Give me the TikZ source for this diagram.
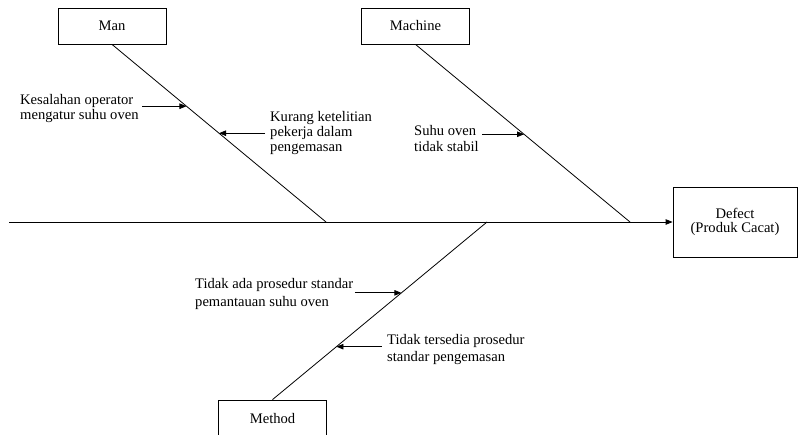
\documentclass[tikz,border=0pt]{standalone}
\usepackage{fontspec}
\setmainfont{Liberation Serif}
\usetikzlibrary{arrows.meta,calc}
% a left-aligned block of lines, baseline on its first line; optional line pitch
\newcommand\causelines[2][15pt]{{\fontsize{14.6}{#1}\selectfont\begin{tabular}[t]{@{}l@{}}#2\end{tabular}}}
\begin{document}
\begin{tikzpicture}[x=1pt,y=-1pt,
  bone/.style={line width=0.8pt},
  catbox/.style={draw, line width=0.8pt, minimum width=108pt, minimum height=36pt,
    inner sep=0pt, font=\fontsize{14.6}{15}\selectfont},
  effectbox/.style={draw, line width=0.8pt, minimum width=124pt, minimum height=70pt,
    inner sep=0pt, align=center, font=\fontsize{14.6}{14}\selectfont},
  cause/.style={anchor=base west, inner sep=0pt},
  tip/.style={-{Triangle[length=7pt,width=5.5pt]}, line width=0.8pt}]
\useasboundingbox (0,0) rectangle (800,434);
\clip (0,0) rectangle (800,434);

% category boxes and the effect
\node[catbox] (man) at (112,26) {Man};
\node[catbox] (machine) at (415.5,26) {Machine};
\node[catbox] (method) at (272.5,418) {Method};
\node[effectbox] (defect) at (735,222) {Defect\\(Produk Cacat)};

% spine
\coordinate (tail) at (9,222);
\draw[tip] (tail) -- (defect.west);

% bones meeting the spine
\coordinate (manj) at (326,222);
\coordinate (macj) at (630,222);
\coordinate (metj) at (487,222);
\draw[bone] (man.south) -- (manj);
\draw[bone] (machine.south) -- (macj);
\draw[bone] (method.north) -- (metj);

% causes on the Man bone
\coordinate (c1) at ($(man.south)!0.348!(manj)$);
\coordinate (c1s) at ($(c1)+(-44,0)$);
\draw[tip] (c1s) -- (c1);
\node[cause] (t1) at (20,104) {\causelines{Kesalahan operator\\mengatur suhu oven}};

\coordinate (c2) at ($(man.south)!0.5!(manj)$);
\coordinate (c2s) at ($(c2)+(46,0)$);
\draw[tip] (c2s) -- (c2);
\node[cause] (t2) at (270,121) {\causelines{Kurang ketelitian\\pekerja dalam\\pengemasan}};

% cause on the Machine bone
\coordinate (c3) at ($(machine.south)!0.506!(macj)$);
\coordinate (c3s) at ($(c3)+(-42,0)$);
\draw[tip] (c3s) -- (c3);
\node[cause] (t3) at (414,135) {\causelines[16pt]{Suhu oven\\tidak stabil}};

% causes on the Method bone
\coordinate (c4) at ($(metj)!0.399!(method.north)$);
\coordinate (c4s) at ($(c4)+(-46.5,0)$);
\draw[tip] (c4s) -- (c4);
\node[cause] (t4) at (195,288) {\causelines[18pt]{Tidak ada prosedur standar\\pemantauan suhu oven}};

\coordinate (c5) at ($(metj)!0.702!(method.north)$);
\coordinate (c5s) at ($(c5)+(45.5,0)$);
\draw[tip] (c5s) -- (c5);
\node[cause] (t5) at (387,344) {\causelines[17pt]{Tidak tersedia prosedur\\standar pengemasan}};
\end{tikzpicture}
\end{document}
